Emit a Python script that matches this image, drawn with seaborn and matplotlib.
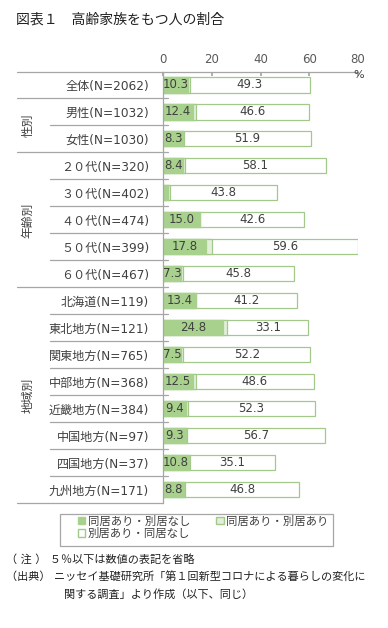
import pandas as pd
import matplotlib.pyplot as plt
import matplotlib.transforms as mtransforms
from matplotlib.patches import Patch, Rectangle
import seaborn as sns

# data
labels = ["全体(N=2062)", "男性(N=1032)", "女性(N=1030)",
          "２０代(N=320)", "３０代(N=402)", "４０代(N=474)", "５０代(N=399)", "６０代(N=467)",
          "北海道(N=119)", "東北地方(N=121)", "関東地方(N=765)", "中部地方(N=368)",
          "近畿地方(N=384)", "中国地方(N=97)", "四国地方(N=37)", "九州地方(N=171)"]
live_with_only = [10.3, 12.4, 8.3, 8.4, 2.1, 15.0, 17.8, 7.3, 13.4, 24.8, 7.5, 12.5, 9.4, 9.3, 10.8, 8.8]
live_with_both = [0.6, 1.0, 0.4, 0.5, 0.7, 0.3, 2.5, 0.7, 0.3, 1.6, 0.8, 0.9, 0.7, 0.5, 0.2, 0.2]
apart_only = [49.3, 46.6, 51.9, 58.1, 43.8, 42.6, 59.6, 45.8, 41.2, 33.1, 52.2, 48.6, 52.3, 56.7, 35.1, 46.8]
series_names = ["同居あり・別居なし", "同居あり・別居あり", "別居あり・同居なし"]
xticks = [0, 20, 40, 60, 80]

df = pd.DataFrame({"label": labels, "a": live_with_only, "b": live_with_both, "c": apart_only})
df["ab"] = df["a"] + df["b"]
df["abc"] = df["ab"] + df["c"]

DARK = "#a9d18e"
LIGHT = "#e2f0d9"
EDGE = "#a3c98a"
GRAY = "#a6a6a6"
TXT = "#404040"

sns.set_theme(style="white")
plt.rcParams["font.family"] = ["DejaVu Sans", "Noto Sans CJK JP"]

W, H = 388, 628
fig = plt.figure(figsize=(W / 100, H / 100), dpi=100)
ax_l, ax_r, ax_t, ax_b = 163, 358, 71.5, 503
ax = fig.add_axes([ax_l / W, 1 - ax_b / H, (ax_r - ax_l) / W, (ax_b - ax_t) / H])

# stacked bars drawn as cumulative layers
sns.barplot(data=df, x="abc", y="label", orient="h", color="white", saturation=1,
            edgecolor=EDGE, linewidth=0.9, width=0.56, ax=ax)
sns.barplot(data=df, x="ab", y="label", orient="h", color=LIGHT, saturation=1,
            edgecolor=EDGE, linewidth=0.9, width=0.56, ax=ax)
sns.barplot(data=df, x="a", y="label", orient="h", color=DARK, saturation=1,
            edgecolor=DARK, linewidth=0.9, width=0.56, ax=ax)

# value labels (5% or less omitted)
for i, row in df.iterrows():
    if row["a"] > 5:
        ax.text(row["a"] / 2, i, f"{row['a']:.1f}", ha="center", va="center",
                fontsize=8.5, color=TXT)
    if row["c"] > 5:
        ax.text(row["ab"] + row["c"] / 2, i, f"{row['c']:.1f}", ha="center", va="center",
                fontsize=8.5, color=TXT)

ax.set_xlim(0, 80)
ax.set_ylim(len(labels) - 0.5, -0.5)
ax.set_xlabel("")
ax.set_ylabel("")
ax.xaxis.tick_top()
ax.set_xticks(xticks)
ax.set_xticklabels([str(t) for t in xticks])
ax.tick_params(axis="x", direction="in", length=3, color=GRAY, pad=4,
               labelsize=8.5, labelcolor="#595959")
ax.tick_params(axis="y", length=0, pad=10, labelsize=8.7, labelcolor=TXT)
for s in ["right", "bottom"]:
    ax.spines[s].set_visible(False)
for s in ["top", "left"]:
    ax.spines[s].set_color(GRAY)
    ax.spines[s].set_linewidth(0.9)

# table lines on the left
trans = mtransforms.blended_transform_factory(ax.transAxes, ax.transData)
full_x = (17 - ax_l) / (ax_r - ax_l)
short_x = (50 - ax_l) / (ax_r - ax_l)
stub_x = 5 / (ax_r - ax_l)
group_breaks = [0.5, 2.5, 7.5]
for k in range(len(labels) + 1):
    y = k - 0.5
    x0 = full_x if (y in group_breaks or k in (0, len(labels))) else short_x
    x1 = 0 if k in (0, len(labels)) else stub_x
    ax.plot([x0, x1], [y, y], transform=trans, clip_on=False, color=GRAY, lw=0.9)

fig.text(359 / W, 1 - 75 / H, "%", ha="center", va="center", fontsize=8, color=TXT)

# group labels
for name, yc in [("性別", 125), ("年齢別", 220), ("地域別", 395)]:
    fig.text(28 / W, 1 - yc / H, name, rotation=90, ha="center", va="center",
             fontsize=8.5, color=TXT)

fig.text(16 / W, 1 - 20 / H, "図表１　高齢家族をもつ人の割合", ha="left", va="center",
         fontsize=10, color="#222222")

# legend: frame drawn separately so the inner margin matches
fig.add_artist(Rectangle((60 / W, 1 - 546 / H), 273 / W, 32 / H, transform=fig.transFigure,
                         facecolor="white", edgecolor=GRAY, linewidth=0.9))
handles = [Patch(facecolor=DARK, edgecolor=DARK),
           Patch(facecolor="white", edgecolor=EDGE),
           Patch(facecolor=LIGHT, edgecolor=EDGE)]
names = [series_names[0], series_names[2], series_names[1]]
leg = fig.legend(handles, names, loc="upper left", bbox_to_anchor=(78 / W, 1 - 515.5 / H),
                 ncol=2, fontsize=8.2, frameon=False,
                 handlelength=0.65, handleheight=0.65, handletextpad=0.2,
                 columnspacing=2.3, borderpad=0, labelspacing=0.15, borderaxespad=0)
for t in leg.get_texts():
    t.set_color(TXT)

# notes
fig.text(6 / W, 1 - 559 / H, "（ 注 ） ５％以下は数値の表記を省略", ha="left", va="center",
         fontsize=8, color="#222222")
fig.text(6 / W, 1 - 576 / H, "（出典） ニッセイ基礎研究所「第１回新型コロナによる暮らしの変化に",
         ha="left", va="center", fontsize=8, color="#222222")
fig.text(64 / W, 1 - 594 / H, "関する調査」より作成（以下、同じ）", ha="left", va="center",
         fontsize=8, color="#222222")

fig.savefig("out.png", dpi=100, facecolor="white")
